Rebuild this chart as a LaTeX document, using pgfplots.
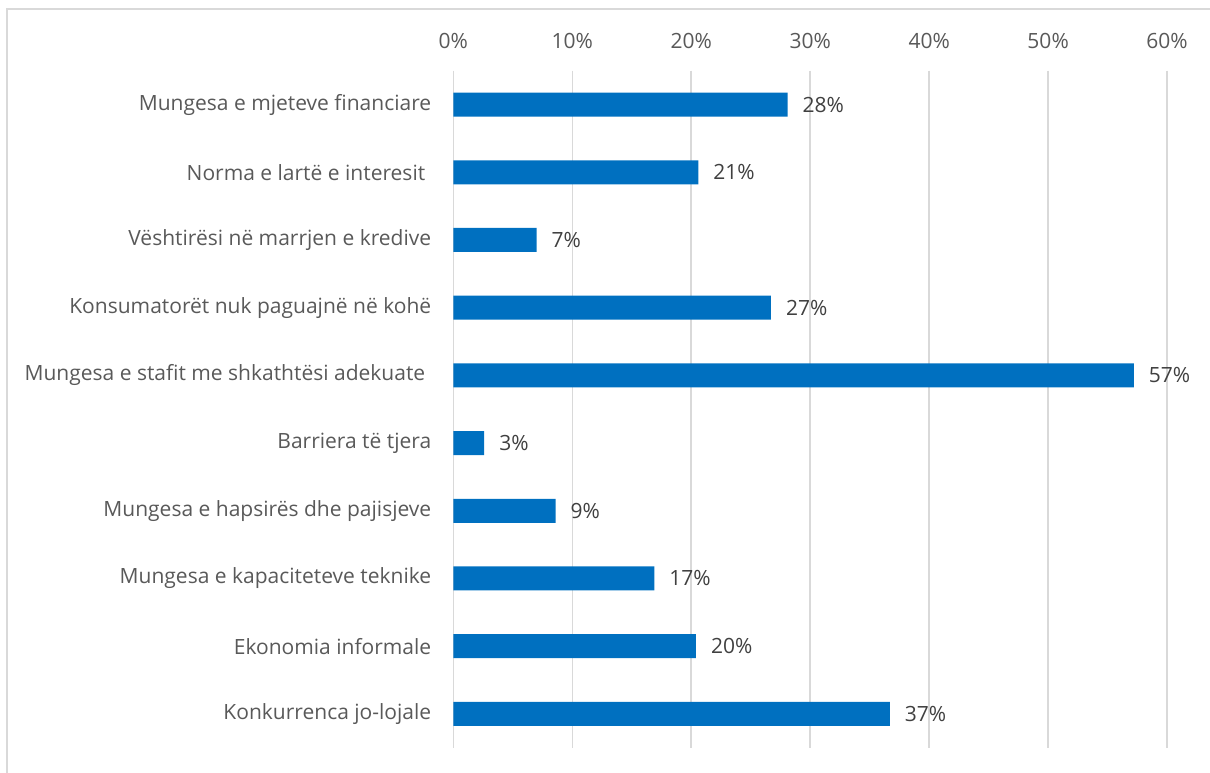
\documentclass[border=0pt]{standalone}
\usepackage{pgfplots}
\pgfplotsset{compat=1.18}
\usepackage{fontspec}
\setmainfont{Open Sans}
\definecolor{barblue}{HTML}{0070C0}
\definecolor{gridgray}{HTML}{D9D9D9}
\definecolor{ticktext}{HTML}{595959}
\definecolor{labeltext}{HTML}{404040}
\begin{document}
\begin{tikzpicture}[x=1pt,y=1pt]
\useasboundingbox (-226.65,-12.15) rectangle (378.35,373.85);
\draw[gridgray,line width=0.75pt] (-223.2,-13) -- (-223.2,369.3) -- (380,369.3);
\begin{axis}[
  at={(0,0)}, anchor=south west,
  scale only axis,
  width=356.9pt, height=338.5pt,
  xmin=0, xmax=60,
  ymin=-0.5, ymax=9.5,
  y dir=reverse,
  axis line style={draw=none},
  axis x line*=top,
  xtick={0,10,...,60},
  xticklabel={\pgfmathprintnumber{\tick}\%},
  xticklabel style={font=\fontsize{10.5}{12}\selectfont, text=ticktext, yshift=7.5pt},
  /pgf/number format/assume math mode=true,
  xmajorgrids,
  major grid style={gridgray, line width=0.75pt},
  major tick length=0pt,
  ytick={0,...,9},
  yticklabels={
    Mungesa e mjeteve financiare,
    {Norma e lartë e interesit\kern3pt},
    Vështirësi në marrjen e kredive,
    Konsumatorët nuk paguajnë në kohë,
    {Mungesa e stafit me shkathtësi adekuate\kern3pt},
    Barriera të tjera,
    Mungesa e hapsirës dhe pajisjeve,
    Mungesa e kapaciteteve teknike,
    Ekonomia informale,
    Konkurrenca jo-lojale},
  yticklabel style={font=\fontsize{10.5}{12}\selectfont, text=ticktext, xshift=-7.5pt},
  xbar, bar width=12pt,
  nodes near coords={\pgfmathprintnumber[fixed,precision=0]{\pgfplotspointmeta}\%},
  nodes near coords style={font=\fontsize{10.5}{12}\selectfont, text=labeltext, xshift=4pt},
  point meta=x,
  clip=false,
]
\addplot[fill=barblue, draw=none] coordinates {
  (28.1,0) (20.6,1) (7.0,2) (26.7,3) (57.2,4)
  (2.6,5) (8.6,6) (16.9,7) (20.4,8) (36.7,9)
};
\end{axis}
\end{tikzpicture}
\end{document}
